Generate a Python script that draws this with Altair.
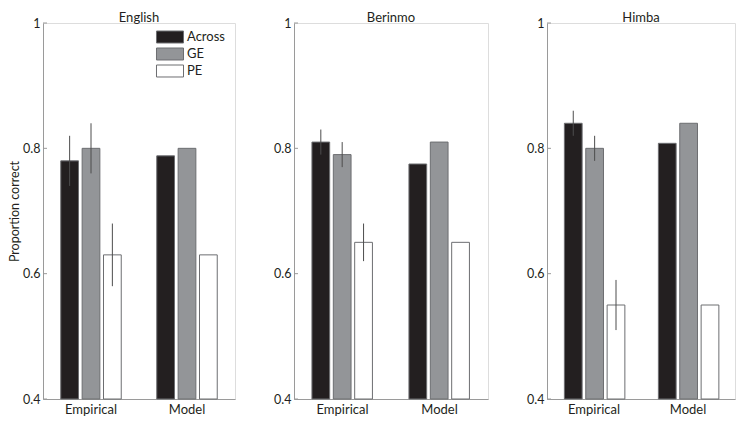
import altair as alt
import pandas as pd

languages = ["English", "Berinmo", "Himba"]
sources = ["Empirical", "Model"]
types = ["Across", "GE", "PE"]

english_emp = [0.78, 0.80, 0.63]
english_emp_lo = [0.74, 0.76, 0.58]
english_emp_hi = [0.82, 0.84, 0.68]
english_model = [0.788, 0.80, 0.63]

berinmo_emp = [0.81, 0.79, 0.65]
berinmo_emp_lo = [0.79, 0.77, 0.62]
berinmo_emp_hi = [0.83, 0.81, 0.68]
berinmo_model = [0.775, 0.81, 0.65]

himba_emp = [0.84, 0.80, 0.55]
himba_emp_lo = [0.82, 0.78, 0.51]
himba_emp_hi = [0.86, 0.82, 0.59]
himba_model = [0.808, 0.84, 0.55]

y_ticks = [0.4, 0.6, 0.8, 1.0]
type_colors = ["#231f20", "#939598", "#ffffff"]

emp = {"English": (english_emp, english_emp_lo, english_emp_hi),
       "Berinmo": (berinmo_emp, berinmo_emp_lo, berinmo_emp_hi),
       "Himba": (himba_emp, himba_emp_lo, himba_emp_hi)}
mod = {"English": english_model, "Berinmo": berinmo_model, "Himba": himba_model}

rows = []
for lang in languages:
    v, lo, hi = emp[lang]
    for i, t in enumerate(types):
        rows.append({"lang": lang, "source": "Empirical", "type": t,
                     "value": v[i], "lo": lo[i], "hi": hi[i]})
    for i, t in enumerate(types):
        rows.append({"lang": lang, "source": "Model", "type": t,
                     "value": mod[lang][i], "lo": None, "hi": None})
df = pd.DataFrame(rows)
ticks_df = pd.DataFrame({"v": y_ticks})

FONT = "Lato"
AXIS_GRAY = "#9a9a9a"
TEXT = "#231f20"

yscale = alt.Scale(domain=[0.4, 1.0], nice=False, zero=False)
xscale = alt.Scale(domain=sources, paddingInner=0.37, paddingOuter=0.185)
offscale = alt.Scale(domain=types, paddingInner=0.17, paddingOuter=0)

legend = alt.Legend(
    title=None, orient="none", legendX=119.5, legendY=6.5,
    symbolType="M-1.93,-0.857H1.93V0.857H-1.93Z", symbolSize=196,
    symbolStrokeColor="#6d6e71", symbolStrokeWidth=1, symbolOpacity=1,
    labelFont=FONT, labelFontSize=13, labelColor=TEXT, labelOffset=9.5,
    rowPadding=0,
)


def panel(lang, width, show_title):
    base = alt.Chart(df).transform_filter(alt.datum.lang == lang)
    yaxis = alt.Axis(values=y_ticks, format="~g", tickSize=0, labelPadding=3,
                     grid=False, domainColor=AXIS_GRAY, labelFont=FONT,
                     labelFontSize=12.5, labelColor=TEXT,
                     title="Proportion correct" if show_title else None,
                     titleFont=FONT, titleFontSize=12.5, titleFontWeight="normal",
                     titleColor=TEXT, titlePadding=1)
    xaxis = alt.Axis(title=None, tickSize=0, labelPadding=4, labelAngle=0,
                     domainColor=AXIS_GRAY, labelFont=FONT, labelFontSize=13,
                     labelColor=TEXT)
    bars = base.mark_bar(stroke="#6d6e71", strokeWidth=1).encode(
        x=alt.X("source:N", scale=xscale, axis=xaxis, sort=sources),
        xOffset=alt.XOffset("type:N", scale=offscale, sort=types),
        y=alt.Y("value:Q", scale=yscale, axis=yaxis),
        y2=alt.datum(0.4),
        fill=alt.Fill("type:N", scale=alt.Scale(domain=types, range=type_colors),
                      legend=legend, sort=types),
    )
    err = base.transform_filter("isValid(datum.lo)").mark_rule(
        color="#4d4d4d", strokeWidth=1).encode(
        x=alt.X("source:N", scale=xscale, sort=sources),
        xOffset=alt.XOffset("type:N", scale=offscale, sort=types),
        y=alt.Y("lo:Q", scale=yscale),
        y2="hi:Q",
    )
    tick = alt.Chart(ticks_df).mark_rule(color=AXIS_GRAY, strokeWidth=1).encode(
        y=alt.Y("v:Q", scale=yscale),
        x=alt.value(0), x2=alt.value(4),
    )
    return alt.layer(bars, err, tick).properties(
        width=width, height=376,
        title=alt.TitleParams(lang, font=FONT, fontSize=13, fontWeight="normal",
                              color=TEXT, offset=-8),
    )


chart = alt.hconcat(
    panel("English", 192, True),
    panel("Berinmo", 194, False),
    panel("Himba", 188, False),
    spacing=37,
).resolve_scale(y="independent").configure_view(stroke=None).configure(
    padding={"top": 3, "left": 0, "right": 0, "bottom": 0}, background="white"
)

chart.save("out.html", embed_options={"renderer": "svg", "actions": False})
